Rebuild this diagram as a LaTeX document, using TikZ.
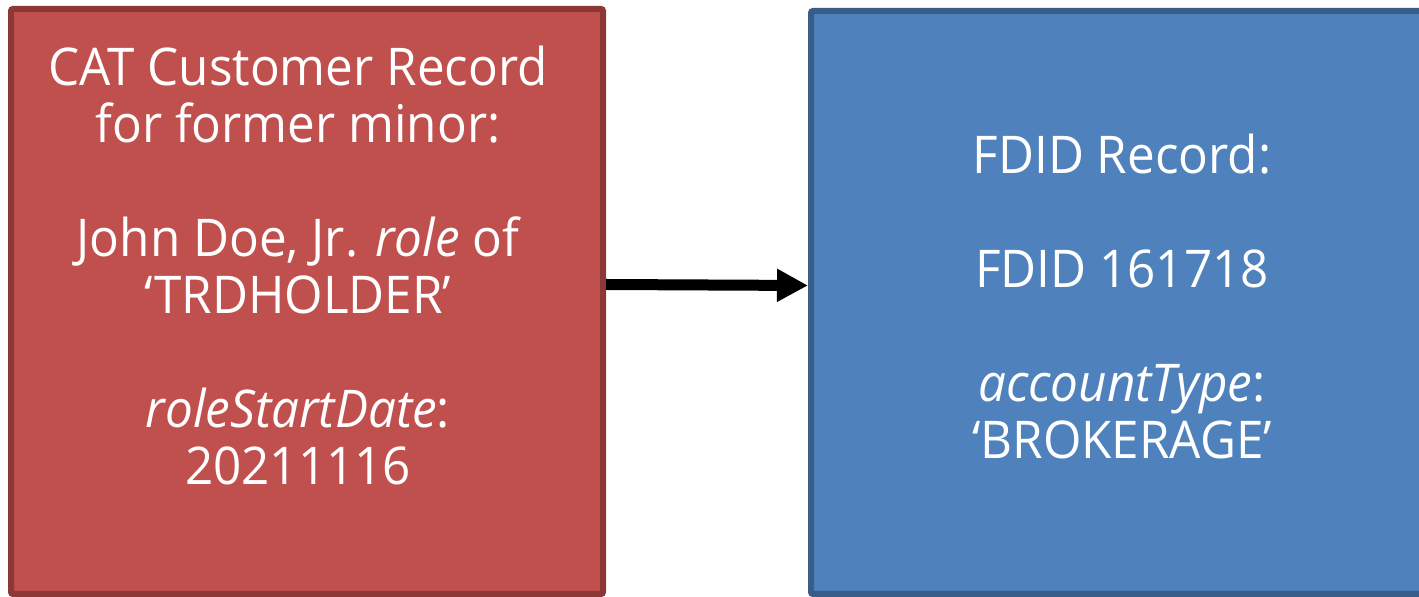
\documentclass[tikz,border=0pt]{standalone}
\usepackage{fontspec}
\setmainfont{Open Sans}[FakeStretch=0.95]
\usetikzlibrary{arrows.meta}
\definecolor{recordRed}{HTML}{C0504D}
\definecolor{recordRedDark}{HTML}{8C3836}
\definecolor{fdidBlue}{HTML}{4F81BD}
\definecolor{fdidBlueDark}{HTML}{385D8A}
\tikzset{
  recordbox/.style={rectangle, line width=3pt, rounded corners=1pt},
  recordtext/.style={text=white, align=center, font=\fontsize{26}{28.5}\selectfont},
  linkarrow/.style={line width=5.5pt, -{Triangle[length=15.5pt, width=15.5pt]}}
}
\begin{document}
\begin{tikzpicture}[x=0.5pt, y=-0.5pt]
   \useasboundingbox (0,0) rectangle (1419,597);
   \clip (0,0) rectangle (1419,597);
   % Customer record.
   \node [recordbox, fill=recordRed, draw=recordRedDark,
          minimum width=296pt, minimum height=292.5pt] (customer) at (307,301.5) {};
    \node [recordtext] (customerText) at (298,266)
      {CAT Customer Record\\for former minor:\\[28.5pt]
       John Doe, Jr. \textit{role} of\\‘TRDHOLDER’\\[28.5pt]
       \textit{roleStartDate}:\\20211116};
   % FDID record.
   \node [recordbox, fill=fdidBlue, draw=fdidBlueDark,
          minimum width=311pt, minimum height=291.5pt] (fdid) at (1122,302.5) {};
    \node [recordtext] (fdidText) at (1122,297)
      {FDID Record:\\[28.5pt]
       FDID 161718\\[28.5pt]
       \textit{accountType}:\\‘BROKERAGE’};
   % Link.
   \draw [linkarrow] ([yshift=8.5pt]customer.east) -- ([yshift=8.5pt]fdid.west);
\end{tikzpicture}
\end{document}
